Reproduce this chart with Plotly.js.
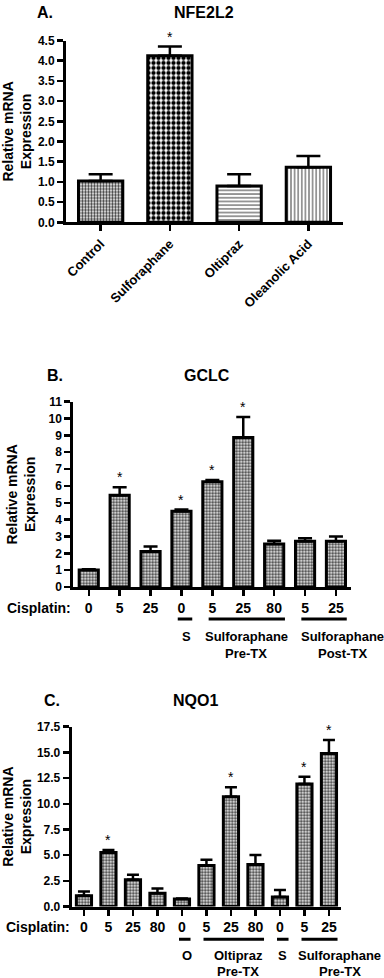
<!DOCTYPE html>
<html>
<head>
<meta charset="utf-8">
<script src="https://cdn.plot.ly/plotly-3.0.1.min.js"></script>
<style>html,body{margin:0;padding:0;background:#fff;}#chart{width:384px;height:978px;}</style>
</head>
<body>
<div id="chart"></div>
<script>
// ---------- DATA ----------
// Panel A: NFE2L2
const catsA = ['Control', 'Sulforaphane', 'Oltipraz', 'Oleanolic Acid'];
const valsA = [1.02, 4.12, 0.90, 1.36];
const errA  = [0.17, 0.23, 0.29, 0.28];
const starsA = ['', '*', '', ''];

// Panel B: GCLC
const dosesB = ['0', '5', '25', '0', '5', '25', '80', '5', '25'];
const valsB  = [1.01, 5.45, 2.10, 4.50, 6.25, 8.88, 2.55, 2.72, 2.72];
const errB   = [0.05, 0.47, 0.31, 0.10, 0.10, 1.21, 0.19, 0.18, 0.28];
const starsB = ['', '*', '', '*', '*', '*', '', '', ''];
const groupsB = [['S'], ['Sulforaphane', 'Pre-TX'], ['Sulforaphane', 'Post-TX']];
const groupStartB = [3, 4, 7];
const groupEndB   = [3, 6, 8];

// Panel C: NQO1
const dosesC = ['0', '5', '25', '80', '0', '5', '25', '80', '0', '5', '25'];
const valsC  = [1.05, 5.25, 2.60, 1.30, 0.72, 3.98, 10.68, 4.08, 0.93, 11.92, 14.90];
const errC   = [0.40, 0.25, 0.50, 0.45, 0.06, 0.57, 0.92, 0.94, 0.67, 0.70, 1.30];
const starsC = ['', '*', '', '', '', '', '*', '', '', '*', '*'];
const groupsC = [['O'], ['Oltipraz', 'Pre-TX'], ['S'], ['Sulforaphane', 'Pre-TX']];
const groupStartC = [4, 5, 8, 9];
const groupEndC   = [4, 7, 8, 10];

// ---------- STYLE / LAYOUT ----------
const H = 978, W = 384;
const FONT = 'Liberation Sans, Arial, Helvetica, sans-serif';
const py = p => 1 - p / H;
const px = p => p / W;

const fine = {shape: '.', size: 3, solidity: 0.5, fgcolor: '#333', bgcolor: '#fff'};
const patternsA = [
  fine,
  {shape: '.', size: 5, solidity: 0.58, fgcolor: '#000', bgcolor: '#fff'},
  {shape: '-', size: 3.7, solidity: 0.35, fgcolor: '#666', bgcolor: '#fff'},
  {shape: '|', size: 3.6, solidity: 0.35, fgcolor: '#666', bgcolor: '#fff'}
];

const idx = arr => arr.map((_, i) => i);

const traces = [];
catsA.forEach((c, i) => {
  traces.push({
    type: 'bar', x: [c], y: [valsA[i]], xaxis: 'x', yaxis: 'y', width: 0.64,
    marker: {color: '#fff', line: {color: '#000', width: 3}, pattern: patternsA[i]},
    error_y: {type: 'data', symmetric: false, array: [errA[i]], arrayminus: [0], color: '#000', thickness: 2.5, width: 12},
    hoverinfo: 'skip'
  });
});
traces.push({
  type: 'bar', x: idx(dosesB), y: valsB, xaxis: 'x2', yaxis: 'y2', width: 0.62,
  marker: {color: '#fff', line: {color: '#000', width: 3}, pattern: fine},
  error_y: {type: 'data', symmetric: false, array: errB, arrayminus: errB.map(() => 0), color: '#000', thickness: 2.5, width: 7},
  hoverinfo: 'skip'
});
traces.push({
  type: 'bar', x: idx(dosesC), y: valsC, xaxis: 'x3', yaxis: 'y3', width: 0.62,
  marker: {color: '#fff', line: {color: '#000', width: 3}, pattern: fine},
  error_y: {type: 'data', symmetric: false, array: errC, arrayminus: errC.map(() => 0), color: '#000', thickness: 2.5, width: 6},
  hoverinfo: 'skip'
});

const tickFont = {family: FONT, size: 12, color: '#000', weight: 'bold'};
const titleFont = {family: FONT, size: 14, color: '#000', weight: 'bold'};
const axisCommon = {
  showline: true, linecolor: '#000', linewidth: 3, showgrid: false, zeroline: false,
  ticks: 'outside', ticklen: 6, tickwidth: 2.5, tickcolor: '#000', fixedrange: true
};
const yTitle = (standoff) => ({text: 'Relative mRNA<br>Expression', font: titleFont, standoff: standoff});

const layout = {
  width: W, height: H, margin: {l: 0, r: 0, t: 0, b: 0},
  paper_bgcolor: '#fff', plot_bgcolor: '#fff', showlegend: false, bargap: 0,
  font: {family: FONT, color: '#000'},
  xaxis: Object.assign({}, axisCommon, {
    domain: [px(66), px(343)], anchor: 'y', type: 'category', range: [-0.5, 3.5],
    tickangle: -45, tickfont: {family: FONT, size: 13, color: '#000', weight: 'bold'}
  }),
  yaxis: Object.assign({}, axisCommon, {
    domain: [py(222.3), py(40.5)], anchor: 'x', range: [0, 4.5], dtick: 0.5, tick0: 0,
    tickformat: '.1f', tickfont: tickFont, title: yTitle(7)
  }),
  xaxis2: Object.assign({}, axisCommon, {
    domain: [px(73.3), px(351.4)], anchor: 'y2', range: [-0.5, 8.5],
    tickvals: idx(dosesB), ticktext: dosesB, ticklabelstandoff: 0,
    tickfont: {family: FONT, size: 14, color: '#000', weight: 'bold'}
  }),
  yaxis2: Object.assign({}, axisCommon, {
    domain: [py(587), py(401.7)], anchor: 'x2', range: [0, 11], dtick: 1, tick0: 0,
    tickfont: tickFont, title: yTitle(10)
  }),
  xaxis3: Object.assign({}, axisCommon, {
    domain: [px(71.7), px(341.2)], anchor: 'y3', range: [-0.5, 10.5],
    tickvals: idx(dosesC), ticktext: dosesC, ticklabelstandoff: 0,
    tickfont: {family: FONT, size: 14, color: '#000', weight: 'bold'}
  }),
  yaxis3: Object.assign({}, axisCommon, {
    domain: [py(906.5), py(726.7)], anchor: 'x3', range: [0, 17.5], dtick: 2.5, tick0: 0,
    tickformat: '.1f', tickfont: tickFont, title: yTitle(3)
  }),
  annotations: [],
  shapes: []
};

const bigFont = {family: FONT, size: 16, color: '#000', weight: 'bold'};
const ann = layout.annotations;
[['A.', 45, 12.5], ['NFE2L2', 204, 12.5], ['B.', 55, 375], ['GCLC', 207, 375], ['C.', 52, 700], ['NQO1', 195, 700]]
  .forEach(([t, x, y]) => ann.push({text: t, xref: 'paper', yref: 'paper', x: px(x), y: py(y),
    xanchor: 'center', yanchor: 'middle', showarrow: false, font: bigFont}));

function addStars(stars, vals, errs, xa, ya, xs) {
  stars.forEach((s, i) => {
    if (!s) return;
    ann.push({text: s, xref: xa, yref: ya, x: xs[i], y: vals[i] + errs[i], xanchor: 'center', yanchor: 'bottom',
      yshift: 0, showarrow: false, font: {family: FONT, size: 14, color: '#000'}});
  });
}
addStars(starsA, valsA, errA, 'x', 'y', catsA);
addStars(starsB, valsB, errB, 'x2', 'y2', idx(dosesB));
addStars(starsC, valsC, errC, 'x3', 'y3', idx(dosesC));

const rowFont = {family: FONT, size: 14, color: '#000', weight: 'bold'};
ann.push({text: 'Cisplatin:', xref: 'x2', yref: 'paper', x: -0.5, y: py(607.7), xanchor: 'right', yanchor: 'middle',
  showarrow: false, font: rowFont});
ann.push({text: 'Cisplatin:', xref: 'x3', yref: 'paper', x: -0.5, y: py(927.3), xanchor: 'right', yanchor: 'middle',
  showarrow: false, font: rowFont});

function addGroups(labels, starts, ends, xa, lineY, textY, lineGap, labelOffsets) {
  labels.forEach((lines, i) => {
    layout.shapes.push({type: 'line', xref: xa, yref: 'paper', x0: starts[i] - 0.12, x1: ends[i] + 0.35,
      y0: py(lineY), y1: py(lineY), line: {color: '#000', width: 3}});
    lines.forEach((t, j) => {
      ann.push({text: t, xref: xa, yref: 'paper', x: (starts[i] + ends[i]) / 2 + labelOffsets[i],
        y: py(textY + j * lineGap), xanchor: 'center', yanchor: 'middle', showarrow: false,
        font: {family: FONT, size: 13, color: '#000', weight: 'bold'}});
    });
  });
}
addGroups(groupsB, groupStartB, groupEndB, 'x2', 619, 636.5, 16.5, [0.15, 0.1, 0.7]);
addGroups(groupsC, groupStartC, groupEndC, 'x3', 939.3, 955, 16, [0.22, 0.3, 0.1, 0.95]);

Plotly.newPlot('chart', traces, layout, {staticPlot: true, displayModeBar: false});
</script>
</body>
</html>
